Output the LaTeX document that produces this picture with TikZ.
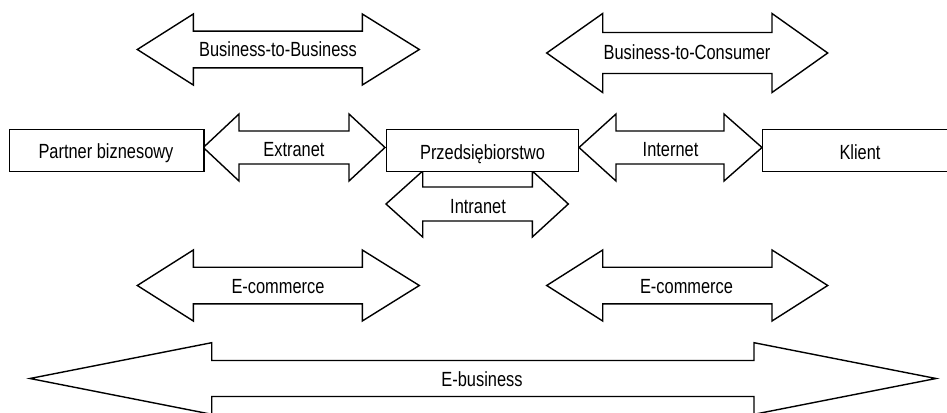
\documentclass[tikz,border=0pt]{standalone}
\usepackage{fontspec}
\setmainfont{Liberation Sans}[FakeStretch=0.8]
% double arrow: tipL, baseL, baseR, tipR, ycenter, head half-height, shaft half-height
\newcommand\dblarrow[7]{%
  \draw[arr] (#1,#5) -- (#2,#5-#6) -- (#2,#5-#7) -- (#3,#5-#7) -- (#3,#5-#6) -- (#4,#5)
    -- (#3,#5+#6) -- (#3,#5+#7) -- (#2,#5+#7) -- (#2,#5+#6) -- cycle;}
\begin{document}
\begin{tikzpicture}[x=1pt,y=-1pt,
  arr/.style={draw=black, fill=white, line width=1.4pt, line join=miter},
  box/.style={draw=black, fill=white, line width=1.4pt, inner sep=0pt, anchor=north west},
  lbl/.style={inner sep=0pt, font=\fontsize{20.5}{22}\selectfont, text height=14.7pt, text depth=0pt}]
\clip (0,0) rectangle (947,412);
\fill[white] (0,0) rectangle (947,412);

% top arrows
\dblarrow{137.3}{193.3}{362.3}{419.3}{49.5}{35.5}{18.3}
\dblarrow{546.7}{602.7}{772}{827.7}{53}{39.5}{20.5}

% middle row arrows
\dblarrow{203.3}{239}{349}{385}{147.5}{33.5}{16.5}
\dblarrow{579}{616}{724}{762}{147.5}{33.5}{16.5}
\dblarrow{386}{422.7}{532.3}{568.3}{204}{33}{17}

% boxes
\node[box, minimum width=194.3pt, minimum height=42pt] (partner) at (9,129) {};
\node[box, minimum width=192pt, minimum height=42pt] (firm) at (386,129) {};
\node[box, minimum width=200pt, minimum height=42pt] (klient) at (762,129) {};

% lower arrows
\dblarrow{137.3}{193.3}{362.3}{419.3}{285.5}{35.5}{18.3}
\dblarrow{546.7}{602.7}{772}{827.7}{285.5}{35.5}{18.3}
\dblarrow{30}{211.7}{754}{936}{378.5}{35.8}{18}

% labels
\node[lbl] (tb2b) at (278,49.5) {Business-to-Business};
\node[lbl] (tb2c) at (687,52.5) {Business-to-Consumer};
\node[lbl] (tpartner) at (106,151.5) {Partner biznesowy};
\node[lbl] (textra) at (294,149) {Extranet};
\node[lbl] (tfirm) at (482.5,152.5) {Przedsiębiorstwo};
\node[lbl] (tinter) at (670.5,149) {Internet};
\node[lbl] (tklient) at (860,152.5) {Klient};
\node[lbl] (tintra) at (478,206.5) {Intranet};
\node[lbl] (tecl) at (278,286.5) {E-commerce};
\node[lbl] (tecr) at (686.5,286) {E-commerce};
\node[lbl] (tebus) at (482,379) {E-business};
\end{tikzpicture}
\end{document}
